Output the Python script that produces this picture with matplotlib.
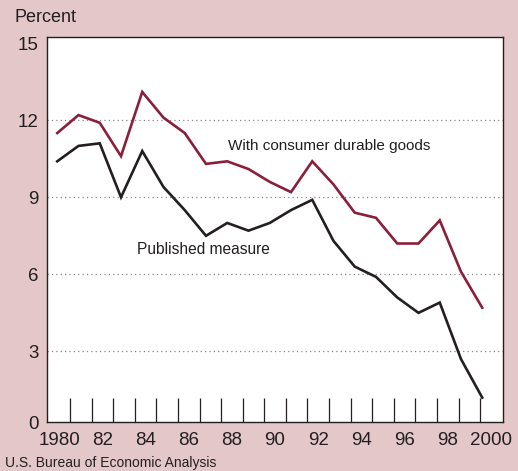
import numpy as np
import matplotlib.pyplot as plt

plt.rcParams['font.family'] = ['Liberation Sans', 'DejaVu Sans']

# data
years = np.arange(1980, 2001)
with_durables = [11.5, 12.2, 11.9, 10.6, 13.1, 12.1, 11.5, 10.3, 10.4, 10.1, 9.6,
                 9.2, 10.4, 9.5, 8.4, 8.2, 7.2, 7.2, 8.1, 6.1, 4.7]
published = [10.4, 11.0, 11.1, 9.0, 10.8, 9.4, 8.5, 7.5, 8.0, 7.7, 8.0,
             8.5, 8.9, 7.3, 6.3, 5.9, 5.1, 4.5, 4.9, 2.7, 1.2]
year_labels = ['1980', '82', '84', '86', '88', '90', '92', '94', '96', '98', '2000']
y_vals = [0, 3, 6, 9, 12, 15]

pink = '#e4c7c9'
maroon = '#8a1f3c'
dark = '#231f20'

fig = plt.figure(figsize=(5.18, 4.71), dpi=100, facecolor=pink)
ax = fig.add_axes([0.090, 0.104, 0.882, 0.818])
ax.set_facecolor('white')

ax.plot(years, with_durables, color=maroon, lw=1.9, solid_joinstyle='miter')
ax.plot(years, published, color=dark, lw=1.9, solid_joinstyle='miter')

ax.set_xlim(1979.5, 2001.0)
ax.set_ylim(0.25, 15.25)

# tick marks sit on the year boundaries, labels in the middle of the slots
bounds = np.linspace(1980.6, 1999.9, 20)
step = bounds[1] - bounds[0]
edges = np.concatenate([[bounds[0] - step], bounds, [bounds[-1] + step]])
centers = (edges[:-1] + edges[1:]) / 2
ax.set_xticks(bounds, minor=True)
ax.set_xticks(centers[::2])
ax.set_xticklabels(year_labels, fontsize=13.5)
ax.tick_params(axis='x', which='minor', direction='in', length=17, width=0.9, color=dark)
ax.tick_params(axis='x', which='major', length=0, pad=7, labelcolor=dark)

ax.set_yticks([0.25] + y_vals[1:])
ax.set_yticklabels([str(v) for v in y_vals], fontsize=13.5)
ax.tick_params(axis='y', length=0, pad=6, labelcolor=dark)

for v in y_vals[1:-1]:
    ax.axhline(v, color='#888888', lw=0.9, ls=(0, (1, 2.5)), zorder=0)

for s in ax.spines.values():
    s.set_color(dark)
    s.set_linewidth(1.0)

fig.text(14 / 518, 1 - 18 / 471, 'Percent', fontsize=13, color=dark, va='center')
fig.text(228 / 518, 1 - 146 / 471, 'With consumer durable goods', fontsize=11,
         color=dark, va='center')
fig.text(137 / 518, 1 - 250 / 471, 'Published measure', fontsize=11.2,
         color=dark, va='center')
fig.text(5 / 518, 1 - 463 / 471, 'U.S. Bureau of Economic Analysis', fontsize=10,
         color=dark, va='center')

fig.savefig('out.png', dpi=100, facecolor=pink)
